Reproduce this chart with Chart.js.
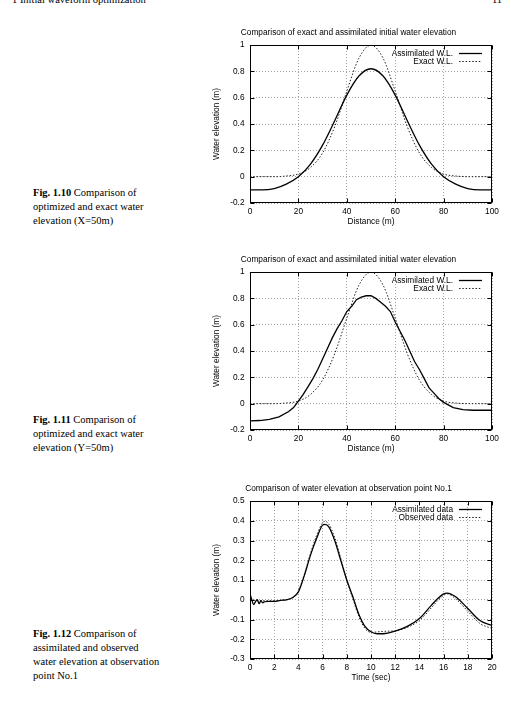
<!DOCTYPE html>
<html><head><meta charset="utf-8">
<script src="https://cdn.jsdelivr.net/npm/chart.js@4.4.0/dist/chart.umd.min.js"></script>
<style>
html,body{margin:0;padding:0;background:#fff;}
#page{position:relative;width:511px;height:723px;overflow:hidden;background:#fff;}
.hdr{position:absolute;top:-5px;font:10.5px 'Liberation Serif',serif;line-height:10px;color:#000;white-space:nowrap;}
.cap{position:absolute;left:33px;font:10.5px 'Liberation Serif',serif;line-height:14px;color:#000;white-space:nowrap;}
.cw{position:absolute;left:205px;width:300px;height:215px;}
</style></head>
<body><div id="page">
<div class="hdr" style="left:12px">1 Initial waveform optimization</div>
<div class="hdr" style="right:9px">11</div>

<div class="cap" style="top:186px"><div><b>Fig. 1.10</b> Comparison of</div><div>optimized and exact water</div><div>elevation (X=50m)</div></div>
<div class="cap" style="top:413px"><div><b>Fig. 1.11</b> Comparison of</div><div>optimized and exact water</div><div>elevation (Y=50m)</div></div>
<div class="cap" style="top:627px"><div><b>Fig. 1.12</b> Comparison of</div><div>assimilated and observed</div><div>water elevation at observation</div><div>point No.1</div></div>

<div class="cw" style="top:20px"><canvas id="c1" width="300" height="215"></canvas></div>
<div class="cw" style="top:247px"><canvas id="c2" width="300" height="215"></canvas></div>
<div class="cw" style="top:476px"><canvas id="c3" width="300" height="215"></canvas></div>
</div>
<script>
// ---- Data ----
const distance1 = [0,5,10,15,20,25,30,35,40,45,50,55,60,65,70,75,80,85,90,95,100];
const assimilated1 = [-0.10,-0.10,-0.09,-0.056,0.0,0.096,0.24,0.425,0.62,0.765,0.82,0.765,0.62,0.425,0.24,0.096,0.0,-0.056,-0.09,-0.10,-0.10];
const exact1 = [0,0,0,0.005,0.02,0.07,0.18,0.38,0.65,0.9,1.0,0.9,0.65,0.38,0.18,0.07,0.02,0.005,0,0,0];

const distance2 = [0,4,8,12,16,18,20,22,24,26,28,30,32,34,36,38,40,42,44,46,48,50,52,54,56,58,60,62,64,66,68,70,72,74,76,78,80,84,88,92,96,100];
const assimilated2 = [-0.13,-0.128,-0.12,-0.10,-0.06,-0.03,0.02,0.07,0.13,0.19,0.26,0.34,0.42,0.5,0.57,0.63,0.7,0.74,0.79,0.81,0.82,0.82,0.80,0.77,0.74,0.70,0.62,0.55,0.48,0.40,0.32,0.26,0.19,0.12,0.08,0.04,0.01,-0.03,-0.045,-0.05,-0.05,-0.05];
const exact2 = exact1;

const timeA = [0,0.15,0.3,0.45,0.6,0.75,0.9,1.05,1.2,1.5,2,2.5,3,3.5,4,4.5,5,5.5,6,6.2,6.5,7,7.5,8,8.5,9,9.5,10,10.5,11,12,13,14,15,15.5,16,16.3,17,18,19,20];
const assimilated3 = [0.03,0.0,-0.025,-0.01,0.0,-0.02,-0.005,-0.015,-0.01,-0.008,-0.008,-0.003,0.0,0.01,0.04,0.125,0.226,0.31,0.378,0.382,0.37,0.3,0.2,0.1,0.015,-0.075,-0.135,-0.162,-0.172,-0.172,-0.159,-0.135,-0.095,-0.027,0.005,0.03,0.034,0.015,-0.044,-0.105,-0.13];
const timeO = [0,1,2,3,3.5,4,4.5,5,5.5,6,6.2,6.5,7,7.5,8,8.5,9,9.5,10,10.5,11,12,13,14,15,15.5,16,16.3,17,18,19,20];
const observed3 = [0,-0.005,-0.005,0,0.01,0.045,0.13,0.235,0.325,0.39,0.397,0.385,0.315,0.21,0.1,0.005,-0.085,-0.145,-0.165,-0.163,-0.16,-0.157,-0.14,-0.105,-0.04,-0.005,0.022,0.03,0.005,-0.058,-0.12,-0.145];

const xTicksDist = [0,20,40,60,80,100];
const xLabelsDist = ['0','20','40','60','80','100'];
const yTicksElev = [-0.2,0,0.2,0.4,0.6,0.8,1];
const yLabelsElev = ['-0.2','0','0.2','0.4','0.6','0.8','1'];
const xTicksTime = [0,2,4,6,8,10,12,14,16,18,20];
const xLabelsTime = ['0','2','4','6','8','10','12','14','16','18','20'];
const yTicksObs = [-0.3,-0.2,-0.1,0,0.1,0.2,0.3,0.4,0.5];
const yLabelsObs = ['-0.3','-0.2','-0.1','0','0.1','0.2','0.3','0.4','0.5'];

// ---- Styling ----
const FONT = {family:"'Liberation Sans', Arial, sans-serif", size:8.3, weight:'normal'};
const pts = (xs, ys) => xs.map((x,i)=>({x:x, y:ys[i]}));

const framePlugin = {
  id:'frame',
  afterDraw(chart){
    const {ctx, chartArea:a} = chart;
    const xs = chart.scales.x, ys = chart.scales.y;
    const L = Math.round(a.left)+0.5, R = Math.round(a.right)-0.5, T = Math.round(a.top)+0.5, B = Math.round(a.bottom)-0.5;
    ctx.save();
    ctx.strokeStyle = '#000'; ctx.lineWidth = 1; ctx.setLineDash([]);
    ctx.beginPath();
    xs.ticks.forEach(t=>{const p=Math.round(xs.getPixelForValue(t.value))+0.5; ctx.moveTo(p,B); ctx.lineTo(p,B-4); ctx.moveTo(p,T); ctx.lineTo(p,T+4);});
    ys.ticks.forEach(t=>{const p=Math.round(ys.getPixelForValue(t.value))+0.5; ctx.moveTo(L,p); ctx.lineTo(L+4,p); ctx.moveTo(R,p); ctx.lineTo(R-4,p);});
    ctx.stroke();
    ctx.strokeRect(L, T, R-L, B-T);
    // key
    ctx.font = `${FONT.size}px ${FONT.family}`;
    ctx.textAlign = 'right'; ctx.textBaseline = 'middle'; ctx.fillStyle = '#000';
    chart.data.datasets.forEach((ds,i)=>{
      const y = Math.round(a.top + 8 + i*8.4) + 0.5;
      ctx.fillText(ds.label, a.right - 39, y);
      ctx.setLineDash(ds.borderDash || []);
      ctx.lineWidth = ds.borderWidth;
      ctx.strokeStyle = ds.borderColor;
      ctx.beginPath(); ctx.moveTo(a.right-33, y); ctx.lineTo(a.right-10, y); ctx.stroke();
    });
    ctx.restore();
  }
};

function axis(ticksArr, labelsArr, min, max, titleText, horizontal){
  const o = {
    type:'linear', min:min, max:max,
    afterBuildTicks(s){ s.ticks = ticksArr.map(v=>({value:v})); },
    ticks:{callback:(v,i)=>labelsArr[i], color:'#000', font:FONT, maxRotation:0, autoSkip:false, padding: horizontal?4:5.5},
    grid:{color:'#a0a0a0', lineWidth:1, drawTicks:false},
    border:{display:false, dash:[1,2]},
    title:{display:true, text:titleText, color:'#000', font:FONT,
      padding: horizontal ? {top:0,bottom:8.5} : {top:6.8,bottom:0}}
  };
  if (horizontal) o.afterFit = s=>{ s.height = 32; };
  else o.afterFit = s=>{ s.width = 45; };
  return o;
}

function makeChart(id, title, datasets, xAx, yAx){
  return new Chart(document.getElementById(id), {
    type:'line',
    data:{datasets:datasets},
    options:{
      responsive:false, animation:false, devicePixelRatio:1,
      layout:{padding:{left:0,right:13,top:0,bottom:0}},
      elements:{point:{radius:0}},
      plugins:{
        legend:{display:false}, tooltip:{enabled:false},
        title:{display:true, text:title, color:'#000', font:FONT, padding:{top:7.8,bottom:7.3}}
      },
      scales:{x:xAx, y:yAx}
    },
    plugins:[framePlugin]
  });
}

const solid = {borderColor:'#000', borderWidth:1.3, fill:false};
const dotted = {borderColor:'#222', borderWidth:1, borderDash:[1.5,1.8], fill:false};

makeChart('c1','Comparison of exact and assimilated initial water elevation',[
  Object.assign({label:'Assimilated W.L.', data:pts(distance1,assimilated1), cubicInterpolationMode:'monotone'}, solid),
  Object.assign({label:'Exact W.L.', data:pts(distance1,exact1), cubicInterpolationMode:'monotone'}, dotted)
], axis(xTicksDist,xLabelsDist,0,100,'Distance (m)',true), axis(yTicksElev,yLabelsElev,-0.2,1,'Water elevation (m)',false));

makeChart('c2','Comparison of exact and assimilated initial water elevation',[
  Object.assign({label:'Assimilated W.L.', data:pts(distance2,assimilated2), tension:0}, solid),
  Object.assign({label:'Exact W.L.', data:pts(distance1,exact2), cubicInterpolationMode:'monotone'}, dotted)
], axis(xTicksDist,xLabelsDist,0,100,'Distance (m)',true), axis(yTicksElev,yLabelsElev,-0.2,1,'Water elevation (m)',false));

makeChart('c3','Comparison of water elevation at observation point No.1',[
  Object.assign({label:'Assimilated data', data:pts(timeA,assimilated3), cubicInterpolationMode:'monotone'}, solid),
  Object.assign({label:'Observed data', data:pts(timeO,observed3), cubicInterpolationMode:'monotone'}, dotted)
], axis(xTicksTime,xLabelsTime,0,20,'Time (sec)',true), axis(yTicksObs,yLabelsObs,-0.3,0.5,'Water elevation (m)',false));
</script>
</body></html>
